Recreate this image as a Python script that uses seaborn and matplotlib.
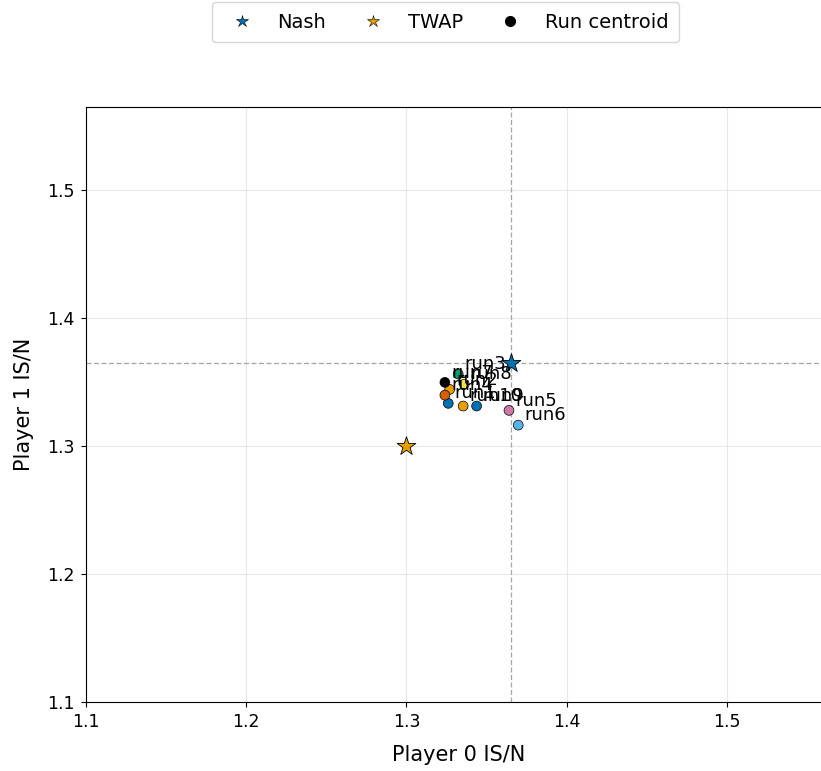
import pandas as pd
import matplotlib
matplotlib.use("Agg")
import matplotlib.pyplot as plt
import seaborn as sns
from matplotlib.lines import Line2D

# run centroids
runs = ["run1", "run2", "run3", "run4", "run5", "run6", "run7", "run8", "run9", "run10"]
run_x = [1.3261, 1.3270, 1.3323, 1.3240, 1.3640, 1.3698, 1.3240, 1.3361, 1.3438, 1.3354]
run_y = [1.3334, 1.3443, 1.3563, 1.3398, 1.3279, 1.3164, 1.3498, 1.3484, 1.3313, 1.3313]
run_colors = ["#0072B2", "#E69F00", "#009E73", "#D55E00", "#CC79A7",
              "#56B4E9", "#000000", "#F0E442", "#0072B2", "#E69F00"]

nash = (1.365, 1.365)
twap = (1.3, 1.3)

ticks = [1.1, 1.2, 1.3, 1.4, 1.5]

df = pd.DataFrame({"run": runs, "p0": run_x, "p1": run_y})

sns.set_style("ticks")
plt.rcParams["font.family"] = ["DejaVu Sans"]
plt.rcParams["text.color"] = "black"
plt.rcParams["axes.labelcolor"] = "black"
plt.rcParams["xtick.color"] = "black"
plt.rcParams["ytick.color"] = "black"

fig = plt.figure(figsize=(8.21, 7.71), dpi=100)
ax = fig.add_axes([86 / 821, 69 / 771, 745 / 821, 595 / 771])

ax.grid(True, color="0.85", lw=0.8, alpha=0.6)
ax.axvline(nash[0], color="0.65", ls=(0, (4, 2)), lw=0.9, zorder=1)
ax.axhline(nash[1], color="0.65", ls=(0, (4, 2)), lw=0.9, zorder=1)

sns.scatterplot(data=df, x="p0", y="p1", hue="run", palette=run_colors,
                s=50, edgecolor="black", linewidth=0.5, legend=False, ax=ax, zorder=3)
for r, x, y in zip(runs, run_x, run_y):
    ax.annotate(r, (x, y), xytext=(4.5, 3.5), textcoords="offset points",
                fontsize=13, color="black", zorder=5)

ax.scatter([nash[0]], [nash[1]], marker="*", s=200, color="#0072B2",
           edgecolor="black", linewidth=0.6, zorder=4)
ax.scatter([twap[0]], [twap[1]], marker="*", s=200, color="#E69F00",
           edgecolor="black", linewidth=0.6, zorder=4)

ax.set_xlim(1.1, 1.565)
ax.set_ylim(1.1, 1.565)
ax.set_xticks(ticks)
ax.set_yticks(ticks)
ax.tick_params(labelsize=12.5, length=3.5, width=0.8, pad=4.5)
ax.set_xlabel("Player 0 IS/N", fontsize=15, labelpad=10)
ax.set_ylabel("Player 1 IS/N", fontsize=15, labelpad=10)
for sp in ax.spines.values():
    sp.set_color("black")
    sp.set_linewidth(0.8)

handles = [
    Line2D([], [], marker="*", ls="", color="#0072B2", markeredgecolor="black",
           markeredgewidth=0.4, markersize=9, label="Nash"),
    Line2D([], [], marker="*", ls="", color="#E69F00", markeredgecolor="black",
           markeredgewidth=0.4, markersize=9, label="TWAP"),
    Line2D([], [], marker="o", ls="", color="black", markersize=7, label="Run centroid"),
]
fig.legend(handles=handles, loc="upper center", bbox_to_anchor=(445.5 / 821, 1 - 2 / 771),
           ncol=3, fontsize=14, frameon=True, columnspacing=1.4, borderaxespad=0,
           borderpad=0.55)

fig.savefig("out.png", dpi=100)
